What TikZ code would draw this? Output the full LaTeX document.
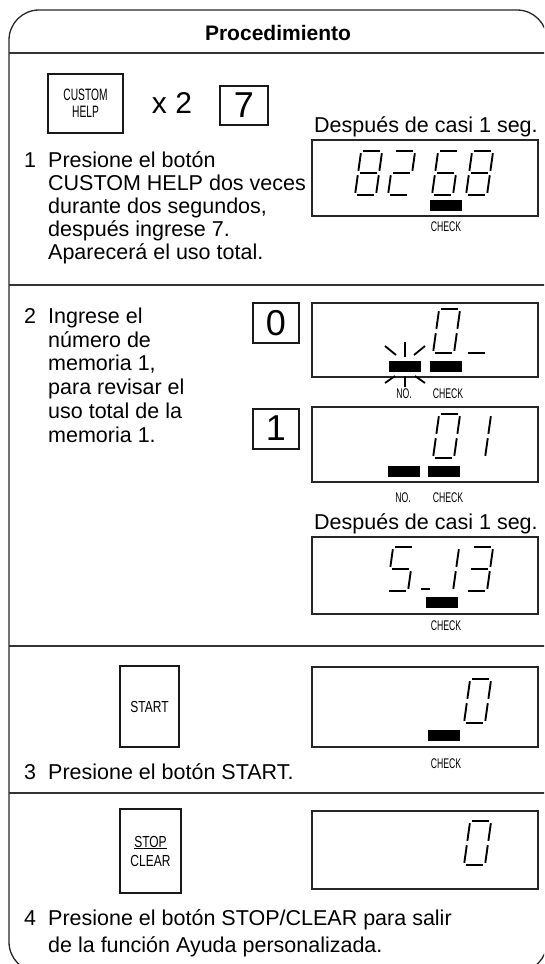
\documentclass[tikz,border=0pt]{standalone}
\usepackage{fontspec}
\setmainfont{Liberation Sans}
\newfontfamily\narrowA[FakeStretch=0.62]{Liberation Sans}
\newfontfamily\narrowB[FakeStretch=0.75]{Liberation Sans}
\tikzset{
  frameline/.style={line width=1.3pt, draw=black!85},
  sepline/.style={line width=1.5pt, draw=black!80},
  btn/.style={draw=black!90, line width=2.4pt, inner sep=0pt, align=center},
  keybox/.style={draw=black!90, line width=2pt, inner sep=0pt, font=\fontsize{36}{36}\selectfont},
  disp/.style={draw=black!85, line width=1.2pt, minimum width=226pt, inner sep=0pt},
  bar/.style={fill=black, minimum width=32pt, minimum height=11pt, inner sep=0pt},
  lbl/.style={inner sep=0pt, font=\narrowA\fontsize{14}{14}\selectfont},
  body/.style={inner sep=0pt, anchor=base west, font=\fontsize{21.5}{24}\selectfont},
  segl/.style={line width=1.9pt, draw=black},
  ray/.style={line width=1.8pt, draw=black}
}
\def\lcdsega{\draw[segl] (2.2,-44)--(18.8,-44);}
\def\lcdsegb{\draw[segl] (21,-41.8)--(21,-24.2);}
\def\lcdsegc{\draw[segl] (21,-19.8)--(21,-2.2);}
\def\lcdsegd{\draw[segl] (2.2,0)--(18.8,0);}
\def\lcdsege{\draw[segl] (0,-2.2)--(0,-19.8);}
\def\lcdsegf{\draw[segl] (0,-24.2)--(0,-41.8);}
\def\lcdsegg{\draw[segl] (2.2,-22)--(18.8,-22);}
\newcommand\lcddigit[3]{\begin{scope}[shift={(#1,#2)}, xslant=0.14]\foreach \s in {#3}{\csname lcdseg\s\endcsname}\end{scope}}
\begin{document}
\begin{tikzpicture}[x=1pt, y=-1pt]
\useasboundingbox (0,0) rectangle (544,964);
\clip (0,0) rectangle (544,964);
% frame and separators
\draw[frameline, rounded corners=30pt] (9,10) rectangle (547,972);
\draw[sepline] (9,53) -- (560,53);
\draw[sepline] (9,285) -- (560,285);
\draw[sepline] (9,646) -- (560,646);
\draw[sepline] (9,793) -- (560,793);
\node[inner sep=0pt, anchor=base, font=\bfseries\fontsize{21}{24}\selectfont] (title) at (278,40) {Procedimiento};

% ---------- Section 1
\node[btn, minimum width=75pt, minimum height=59pt, font=\narrowA\fontsize{16.5}{17}\selectfont] (bcustom) at (85.5,103.5) {CUSTOM\\HELP};
\node[inner sep=0pt, font=\fontsize{30}{30}\selectfont] (times2) at (172,103) {x 2};
\node[keybox, minimum width=48pt, minimum height=39pt] (k7) at (244,105.5) {7};
\node[body] (after1) at (314,132) {Después de casi 1 seg.};
\node[disp, minimum height=76pt] (disp1) at (425,178) {};
\lcddigit{355}{195}{a,b,c,d,e,f,g}
\lcddigit{388}{195}{a,b,g,e,d}
\lcddigit{432}{195}{a,f,g,e,d,c}
\lcddigit{466}{195}{a,b,c,d,e,f,g}
\node[bar] (bar1) at (446,205.5) {};
\node[lbl] (chk1) at (446,227) {CHECK};
\node[body] (n1) at (24,167) {1};
\node[body] (t1a) at (48,167) {Presione el botón};
\node[body] (t1b) at (48,190) {CUSTOM HELP dos veces};
\node[body] (t1c) at (48,213) {durante dos segundos,};
\node[body] (t1d) at (48,236) {después ingrese 7.};
\node[body] (t1e) at (48,259) {Aparecerá el uso total.};

% ---------- Section 2
\node[body] (n2) at (24,323) {2};
\node[body] (t2a) at (48,323) {Ingrese el};
\node[body] (t2b) at (48,347) {número de};
\node[body] (t2c) at (48,370) {memoria 1,};
\node[body] (t2d) at (48,394) {para revisar el};
\node[body] (t2e) at (48,418) {uso total de la};
\node[body] (t2f) at (48,442) {memoria 1.};
\node[keybox, minimum width=46pt, minimum height=40pt] (k0) at (276,323) {0};
\node[keybox, minimum width=46pt, minimum height=40pt] (k1) at (276,428.5) {1};
% display 2
\node[disp, minimum height=74pt] (disp2) at (425,340) {};
\lcddigit{433}{353}{a,b,c,d,e,f}
\lcddigit{466}{353}{d}
\node[bar] (nobar2) at (405,366.5) {};
\node[bar] (bar2) at (446,366.5) {};
\draw[ray] (385,346) -- (396,355);
\draw[ray] (405,342) -- (405,357);
\draw[ray] (425,346) -- (414,355);
\draw[ray] (385,383) -- (395,376);
\draw[ray] (405,376) -- (405,387);
\draw[ray] (425,383) -- (415,376);
\node[lbl] (no2) at (404,394) {NO.};
\node[lbl] (chk2) at (448,394) {CHECK};
% display 3
\node[disp, minimum height=75pt] (disp3) at (425,444.5) {};
\lcddigit{433}{458}{a,b,c,d,e,f}
\lcddigit{464}{458}{b,c}
\node[bar] (nobar3) at (404,471.5) {};
\node[bar] (bar3) at (444,471.5) {};
\node[lbl] (no3) at (403,498) {NO.};
\node[lbl] (chk3) at (448,498) {CHECK};
\node[body] (after2) at (314,529) {Después de casi 1 seg.};
% display 4
\node[disp, minimum height=77pt] (disp4) at (425,575.5) {};
\lcddigit{387}{591}{a,f,g,c,d}
\draw[segl] (421,589) -- (430,589);
\lcddigit{432}{591}{b,c}
\lcddigit{466}{591}{a,b,g,c,d}
\node[bar] (bar4) at (442,602) {};
\node[lbl] (chk4) at (446,626) {CHECK};

% ---------- Section 3
\node[btn, minimum width=59pt, minimum height=81pt, font=\narrowB\fontsize{16}{16.5}\selectfont] (bstart) at (149.5,706.5) {START};
\node[disp, minimum height=80pt] (disp5) at (425,707) {};
\lcddigit{464}{723}{a,b,c,d,e,f}
\node[bar] (bar5) at (444,735.5) {};
\node[lbl] (chk5) at (446,764) {CHECK};
\node[body] (n3) at (24,779) {3};
\node[body] (t3a) at (48,779) {Presione el botón START.};

% ---------- Section 4
\node[btn, minimum width=61pt, minimum height=84pt, font=\narrowB\fontsize{16}{19}\selectfont] (bstop) at (150.5,851) {\underline{STOP}\\CLEAR};
\node[disp, minimum height=78pt] (disp6) at (425,850) {};
\lcddigit{464}{865}{a,b,c,d,e,f}
\node[body] (n4) at (24,925) {4};
\node[body] (t4a) at (48,925) {Presione el botón STOP/CLEAR para salir};
\node[body] (t4b) at (48,952) {de la función Ayuda personalizada.};
\end{tikzpicture}
\end{document}
